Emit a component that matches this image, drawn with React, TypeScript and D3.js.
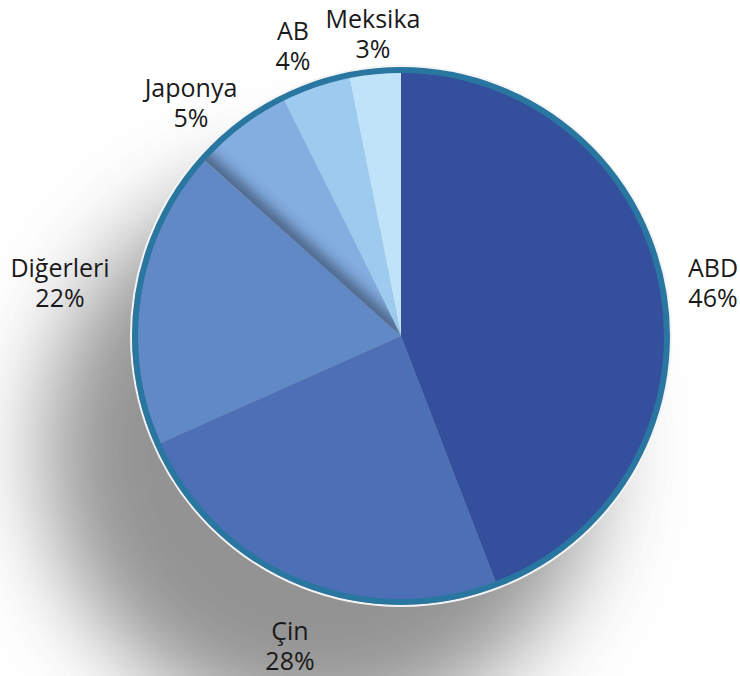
import React, { useEffect, useRef } from 'react';
import * as d3 from 'd3';

// slice shares as drawn (angles)
const countries = ['ABD', 'Çin', 'Diğerleri', 'Japonya', 'AB', 'Meksika'];
const shares = [44.2, 24.2, 18.3, 6.1, 4.2, 3.1];
const shareLabels = ['46%', '28%', '22%', '5%', '4%', '3%'];
const sliceColors = ['#34509c', '#4d6fb6', '#6189c6', '#84ade0', '#9dcaef', '#bfe4f9'];

// label anchor positions (centre x, baseline of first line)
const labelPos: [number, number][] = [
  [713, 277],
  [290, 640],
  [60, 277],
  [191, 97],
  [293, 40],
  [373, 28],
];

const width = 740;
const height = 676;

const App: React.FC = () => {
  const svgRef = useRef<SVGSVGElement>(null);

  useEffect(() => {
    if (!svgRef.current) return;
    const svg = d3.select(svgRef.current);
    svg.selectAll('*').remove();

    const cx = 401;
    const cy = 336;
    const r = 266;

    const defs = svg.append('defs');
    defs.append('filter')
      .attr('id', 'shadowBlur')
      .attr('x', '-50%').attr('y', '-50%')
      .attr('width', '200%').attr('height', '200%')
      .append('feGaussianBlur')
      .attr('stdDeviation', 45);

    defs.append('filter')
      .attr('id', 'edgeBlur')
      .attr('x', '-50%').attr('y', '-50%')
      .attr('width', '200%').attr('height', '200%')
      .append('feGaussianBlur')
      .attr('stdDeviation', 7);

    // drop shadow towards the lower left
    svg.append('circle')
      .attr('cx', cx - 80)
      .attr('cy', cy + 115)
      .attr('r', r + 10)
      .attr('fill', '#707070')
      .attr('opacity', 0.75)
      .attr('filter', 'url(#shadowBlur)');

    const g = svg.append('g').attr('transform', `translate(${cx},${cy})`);

    const pie = d3.pie<number>().sort(null).value(d => d);
    const arcs = pie(shares);
    const arc = d3.arc<d3.PieArcDatum<number>>().innerRadius(0).outerRadius(r);

    // white rim highlight
    g.append('circle')
      .attr('r', r + 4)
      .attr('fill', 'none')
      .attr('stroke', '#f4f4f4')
      .attr('stroke-width', 2);

    g.selectAll('path.slice')
      .data(arcs)
      .join('path')
      .attr('class', 'slice')
      .attr('d', arc)
      .attr('fill', (_, i) => sliceColors[i]);

    // inner shading of the Japonya slice along its edge with Diğerleri
    const jp = arcs[3];
    defs.append('clipPath')
      .attr('id', 'jpClip')
      .append('path')
      .attr('d', arc(jp) as string)
      .attr('transform', `translate(${cx},${cy})`);
    const a = jp.startAngle;
    svg.append('g')
      .attr('clip-path', 'url(#jpClip)')
      .append('line')
      .attr('x1', cx).attr('y1', cy)
      .attr('x2', cx + Math.sin(a) * (r + 10))
      .attr('y2', cy - Math.cos(a) * (r + 10))
      .attr('stroke', '#2a3a55')
      .attr('stroke-width', 16)
      .attr('opacity', 0.7)
      .attr('filter', 'url(#edgeBlur)');

    // outer ring
    svg.append('circle')
      .attr('cx', cx).attr('cy', cy)
      .attr('r', r)
      .attr('fill', 'none')
      .attr('stroke', '#2977a1')
      .attr('stroke-width', 6);

    const labels = svg.append('g')
      .attr('font-family', '"Open Sans", sans-serif')
      .attr('font-size', 25)
      .attr('fill', '#1a1a1a')
      .attr('text-anchor', 'middle');

    countries.forEach((name, i) => {
      const [x, y] = labelPos[i];
      const t = labels.append('text').attr('x', x).attr('y', y);
      t.append('tspan').attr('x', x).text(name);
      t.append('tspan').attr('x', x).attr('dy', 30).text(shareLabels[i]);
    });
  }, []);

  return (
    <svg
      ref={svgRef}
      width={width}
      height={height}
      style={{ position: 'absolute', left: 0, top: 0, background: '#fff' }}
    />
  );
};

export default App;
